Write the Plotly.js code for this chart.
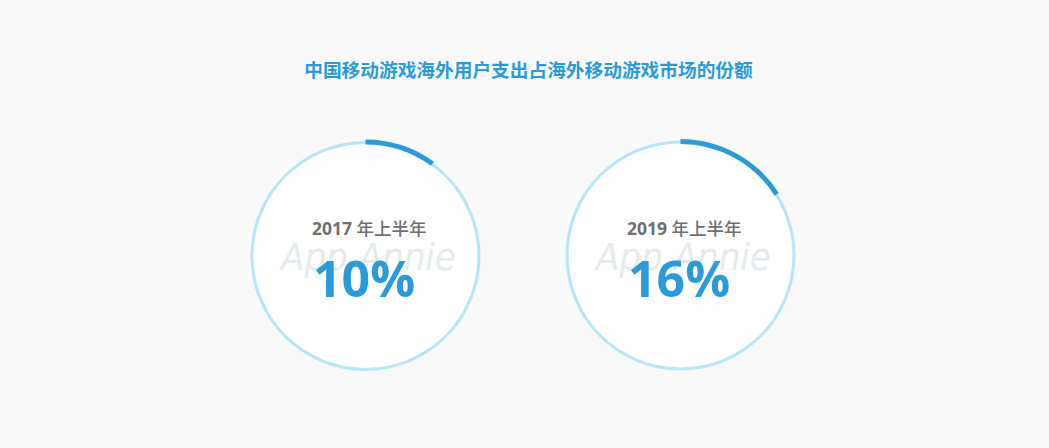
<!DOCTYPE html>
<html>
<head>
<meta charset="utf-8">
<script src="https://cdn.plot.ly/plotly-3.0.1.min.js"></script>
<style>
html,body{margin:0;padding:0;background:#f9f9f9;}
#chart{width:1049px;height:448px;}
</style>
</head>
<body>
<div id="chart"></div>
<script>
// ---- data ----
const chartTitle = '中国移动游戏海外用户支出占海外移动游戏市场的份额';
const periods = ['2017 年上半年', '2019 年上半年'];
const shares = [10, 16];          // percent of overseas mobile game market
const watermark = 'App Annie';

// ---- layout constants ----
const W = 1049, H = 448;
const centers = [[365.5, 256], [680.5, 255.5]];
const DARK = '#2a9bd8', LIGHT = '#b4e5f8', GRAY = '#6f6f6f';

function dom(cx, cy, r) {
  return {
    x: [(cx - r) / W, (cx + r) / W],
    y: [1 - (cy + r) / H, 1 - (cy - r) / H]
  };
}

const traces = [];
const annotations = [];
shares.forEach((v, i) => {
  const [cx, cy] = centers[i];
  // white disk
  traces.push({
    type: 'pie', values: [1], marker: {colors: ['#ffffff'], line: {width: 0}},
    domain: dom(cx, cy, 113), hole: 0, sort: false, textinfo: 'none',
    hoverinfo: 'skip', showlegend: false
  });
  // light full ring
  traces.push({
    type: 'pie', values: [100], marker: {colors: [LIGHT], line: {width: 0}},
    domain: dom(cx, cy, 115), hole: 112 / 115, sort: false, textinfo: 'none',
    hoverinfo: 'skip', showlegend: false
  });
  // dark share arc
  traces.push({
    type: 'pie', values: [v, 100 - v],
    marker: {colors: [DARK, 'rgba(0,0,0,0)'], line: {width: 0}},
    domain: dom(cx, cy, 116.5), hole: 111.5 / 116.5, sort: false,
    direction: 'clockwise', rotation: 0, textinfo: 'none',
    hoverinfo: 'skip', showlegend: false
  });

  const parts = periods[i].split(' ');
  // watermark
  annotations.push({
    xref: 'paper', yref: 'paper', x: (cx + 2) / W, y: 1 - 257 / H,
    xanchor: 'center', yanchor: 'middle', showarrow: false,
    text: watermark,
    font: {family: '"DejaVu Sans Condensed", "DejaVu Sans", sans-serif', size: 38, color: '#e4ebee', style: 'italic', weight: 400}
  });
  // period label
  annotations.push({
    xref: 'paper', yref: 'paper', x: (cx + 3.5) / W, y: 1 - 228 / H,
    xanchor: 'center', yanchor: 'middle', showarrow: false,
    text: '<b>' + parts[0] + '</b> ' + parts.slice(1).join(' '),
    font: {family: '"Open Sans", "Noto Sans CJK SC", sans-serif', size: 17.5, color: GRAY, weight: 500}
  });
  // value
  annotations.push({
    xref: 'paper', yref: 'paper', x: (cx - 1.5) / W, y: 1 - 278 / H,
    xanchor: 'center', yanchor: 'middle', showarrow: false,
    text: '<b>' + v + '%</b>',
    font: {family: '"Open Sans", sans-serif', size: 50, color: DARK}
  });
});

const layout = {
  width: W, height: H,
  margin: {l: 0, r: 0, t: 0, b: 0},
  paper_bgcolor: '#f9f9f9',
  plot_bgcolor: '#f9f9f9',
  showlegend: false,
  title: {
    text: '<b>' + chartTitle + '</b>',
    x: 528.5 / W, xanchor: 'center', xref: 'paper',
    y: 1 - 70 / H, yanchor: 'middle', yref: 'container',
    font: {family: '"Noto Sans CJK SC", sans-serif', size: 18.7, color: DARK}
  },
  annotations: annotations
};

Plotly.newPlot('chart', traces, layout, {displayModeBar: false, staticPlot: true});
</script>
</body>
</html>
